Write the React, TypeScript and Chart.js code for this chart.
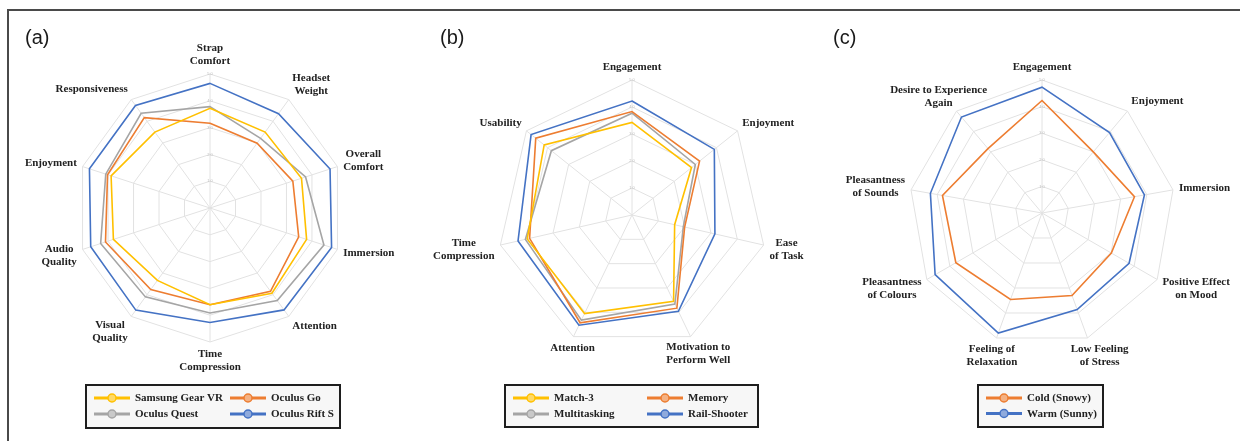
import React, { useEffect, useRef } from "react";
import { Chart, registerables } from "chart.js";

Chart.register(...registerables);

// ---------- DATA ----------
const headsetCategories: (string | string[])[] = [
  ["Strap", "Comfort"],
  ["Headset", "Weight"],
  ["Overall", "Comfort"],
  "Immersion",
  "Attention",
  ["Time", "Compression"],
  ["Visual", "Quality"],
  ["Audio", "Quality"],
  "Enjoyment",
  "Responsiveness",
];
const samsungGearVR = [3.72, 3.5, 3.59, 3.79, 3.93, 3.61, 3.34, 3.79, 3.88, 3.5];
const oculusGo = [3.16, 2.99, 3.25, 3.48, 3.84, 3.61, 3.76, 4.1, 4.02, 4.17];
const oculusQuest = [3.78, 3.21, 3.75, 4.47, 4.27, 3.92, 4.1, 4.29, 4.09, 4.37];
const oculusRiftS = [4.65, 4.35, 4.71, 4.77, 4.7, 4.27, 4.71, 4.68, 4.73, 4.73];

const gameCategories: (string | string[])[] = [
  "Engagement",
  "Enjoyment",
  ["Ease", "of Task"],
  ["Motivation to", "Perform Well"],
  "Attention",
  ["Time", "Compression"],
  "Usability",
];
const match3 = [3.43, 2.82, 1.62, 3.55, 4.05, 3.98, 4.16];
const memory = [3.83, 3.2, 2.0, 3.83, 4.43, 3.89, 4.56];
const multitasking = [3.77, 3.0, 1.95, 3.66, 4.32, 4.05, 3.82];
const railShooter = [4.22, 3.9, 3.15, 3.96, 4.53, 4.33, 4.78];

const environmentCategories: (string | string[])[] = [
  "Engagement",
  "Enjoyment",
  "Immersion",
  ["Positive Effect", "on Mood"],
  ["Low Feeling", "of Stress"],
  ["Feeling of", "Relaxation"],
  ["Pleasantness", "of Colours"],
  ["Pleasantness", "of Sounds"],
  ["Desire to Experience", "Again"],
];
const coldSnowy = [4.23, 3.0, 3.53, 3.01, 3.3, 3.46, 3.74, 3.8, 3.16];
const warmSunny = [4.73, 3.95, 3.91, 3.78, 3.86, 4.8, 4.64, 4.26, 4.71];

const scaleMin = 0;
const scaleMax = 5;
const scaleStep = 1;

// ---------- STYLES ----------
const YELLOW = "#FFC000";
const ORANGE = "#ED7D31";
const GRAY = "#A5A5A5";
const BLUE = "#4472C4";
const YELLOW_FILL = "#FFD966";
const ORANGE_FILL = "#F4B183";
const GRAY_FILL = "#C9C9C9";
const BLUE_FILL = "#8FAADC";

type Series = { name: string; data: number[]; color: string; fill: string };
type PanelCfg = {
  letter: string;
  letterX: number;
  labels: (string | string[])[];
  series: Series[];
  canvasLeft: number;
  canvasWidth: number;
  cx: number;
  cy: number;
  R: number;
  labelAlign: number[];
  legend: { x: number; y: number; w: number; h: number; cols: number; colStep: number; rowY: number[] };
};

const H = 441;
const TICK_FONT = 4;

const panels: PanelCfg[] = [
  {
    letter: "(a)",
    letterX: 25,
    labels: headsetCategories,
    series: [
      { name: "Samsung Gear VR", data: samsungGearVR, color: YELLOW, fill: YELLOW_FILL },
      { name: "Oculus Go", data: oculusGo, color: ORANGE, fill: ORANGE_FILL },
      { name: "Oculus Quest", data: oculusQuest, color: GRAY, fill: GRAY_FILL },
      { name: "Oculus Rift S", data: oculusRiftS, color: BLUE, fill: BLUE_FILL },
    ],
    canvasLeft: 0,
    canvasWidth: 415,
    cx: 210,
    cy: 208,
    R: 134,
    labelAlign: [0, 1, 1, 1, 1, 0, -1, -1, -1, -1],
    legend: { x: 86, y: 385, w: 254, h: 43, cols: 2, colStep: 136, rowY: [398, 414] },
  },
  {
    letter: "(b)",
    letterX: 25,
    labels: gameCategories,
    series: [
      { name: "Match-3", data: match3, color: YELLOW, fill: YELLOW_FILL },
      { name: "Memory", data: memory, color: ORANGE, fill: ORANGE_FILL },
      { name: "Multitasking", data: multitasking, color: GRAY, fill: GRAY_FILL },
      { name: "Rail-Shooter", data: railShooter, color: BLUE, fill: BLUE_FILL },
    ],
    canvasLeft: 415,
    canvasWidth: 400,
    cx: 217,
    cy: 215,
    R: 135,
    labelAlign: [0, 1, 1, 0.16, 0.08, -1, -1],
    legend: { x: 90, y: 385, w: 253, h: 42, cols: 2, colStep: 134, rowY: [398, 414] },
  },
  {
    letter: "(c)",
    letterX: 18,
    labels: environmentCategories,
    series: [
      { name: "Cold (Snowy)", data: coldSnowy, color: ORANGE, fill: ORANGE_FILL },
      { name: "Warm (Sunny)", data: warmSunny, color: BLUE, fill: BLUE_FILL },
    ],
    canvasLeft: 815,
    canvasWidth: 425,
    cx: 227,
    cy: 213,
    R: 133,
    labelAlign: [0, 1, 1, 1, 0.35, -0.1, -1, -1, -0.29],
    legend: { x: 163, y: 385, w: 125, h: 42, cols: 1, colStep: 0, rowY: [398, 413.5] },
  },
];

const LABEL_FONT = 'bold 11px "Liberation Serif", "Times New Roman", serif';
const LINE_H = 13;
const LABEL_PAD = 6;

function makeDecorPlugin(cfg: PanelCfg) {
  return {
    id: "panelDecor" + cfg.letter,
    afterDraw(chart: any) {
      const ctx: CanvasRenderingContext2D = chart.ctx;
      const scale = chart.scales.r;
      const n = cfg.labels.length;
      ctx.save();
      // panel letter
      ctx.font = '20px "Liberation Sans", Arial, sans-serif';
      ctx.fillStyle = "#1a1a1a";
      ctx.textAlign = "left";
      ctx.textBaseline = "alphabetic";
      ctx.fillText(cfg.letter, cfg.letterX, 43.5);

      // point labels
      ctx.font = LABEL_FONT;
      ctx.fillStyle = "#222";
      ctx.textAlign = "center";
      ctx.textBaseline = "middle";
      cfg.labels.forEach((lab, i) => {
        const lines = Array.isArray(lab) ? lab : [lab];
        const th = (2 * Math.PI * i) / n;
        const c = Math.cos(th);
        const p = scale.getPointPosition(i, scale.drawingArea + LABEL_PAD);
        const w = Math.max(...lines.map((l) => ctx.measureText(l).width));
        const h = lines.length * LINE_H;
        const bx = p.x + (cfg.labelAlign[i] * w) / 2;
        const by = p.y - (c * h) / 2;
        lines.forEach((l, k) => ctx.fillText(l, bx, by - h / 2 + LINE_H * (k + 0.5)));
      });

      // legend
      const L = cfg.legend;
      ctx.fillStyle = "#f7f7f7";
      ctx.fillRect(L.x, L.y, L.w, L.h);
      ctx.strokeStyle = "#1e1e1e";
      ctx.lineWidth = 2;
      ctx.strokeRect(L.x, L.y, L.w, L.h);
      ctx.textAlign = "left";
      cfg.series.forEach((s, i) => {
        const col = i % L.cols;
        const row = Math.floor(i / L.cols);
        const mx = L.x + 8 + col * L.colStep;
        const my = L.rowY[row];
        ctx.strokeStyle = s.color;
        ctx.lineWidth = 3;
        ctx.beginPath();
        ctx.moveTo(mx, my);
        ctx.lineTo(mx + 36, my);
        ctx.stroke();
        ctx.beginPath();
        ctx.arc(mx + 18, my, 4, 0, Math.PI * 2);
        ctx.fillStyle = s.fill;
        ctx.fill();
        ctx.lineWidth = 1.5;
        ctx.stroke();
        ctx.fillStyle = "#222";
        ctx.fillText(s.name, mx + 41, my + 0.5);
      });
      ctx.restore();
    },
  };
}

function RadarPanel({ cfg }: { cfg: PanelCfg }) {
  const ref = useRef<HTMLCanvasElement | null>(null);
  useEffect(() => {
    if (!ref.current) return;
    const p = TICK_FONT / 2;
    const W = cfg.canvasWidth;
    const padding = {
      left: cfg.cx - cfg.R - p,
      top: cfg.cy - cfg.R - p,
      right: W - (cfg.cx + cfg.R + p),
      bottom: H - (cfg.cy + cfg.R + p),
    };
    const chart = new Chart(ref.current, {
      type: "radar",
      data: {
        labels: cfg.labels as any,
        datasets: cfg.series.map((s) => ({
          label: s.name,
          data: s.data,
          borderColor: s.color,
          backgroundColor: s.fill,
          borderWidth: 1.6,
          fill: false,
          pointRadius: 0,
          pointHoverRadius: 0,
          tension: 0,
        })),
      },
      options: {
        animation: false,
        responsive: false,
        maintainAspectRatio: false,
        devicePixelRatio: 1,
        layout: { padding },
        plugins: {
          legend: { display: false },
          title: { display: false },
          tooltip: { enabled: false },
        },
        scales: {
          r: {
            min: scaleMin,
            max: scaleMax,
            beginAtZero: true,
            ticks: {
              stepSize: scaleStep,
              display: true,
              font: { size: TICK_FONT },
              color: "#bdbdbd",
              showLabelBackdrop: false,
              backdropPadding: 0,
              callback: (v: any) => Number(v).toFixed(1),
            },
            grid: { color: "#e2e2e2", lineWidth: 1 },
            angleLines: { color: "#e2e2e2", lineWidth: 1 },
            pointLabels: { display: false },
          },
        },
      },
      plugins: [makeDecorPlugin(cfg)],
    } as any);
    return () => chart.destroy();
  }, [cfg]);
  return (
    <canvas
      ref={ref}
      width={cfg.canvasWidth}
      height={H}
      style={{ position: "absolute", left: cfg.canvasLeft, top: 0, width: cfg.canvasWidth, height: H }}
    />
  );
}

export default function App() {
  return (
    <div
      style={{
        position: "fixed",
        left: 0,
        top: 0,
        width: 1240,
        height: H,
        background: "#ffffff",
        overflow: "hidden",
      }}
    >
      <div
        style={{
          position: "absolute",
          left: 7,
          top: 9,
          width: 1240,
          height: 440,
          borderTop: "2px solid #4a4a4a",
          borderLeft: "2px solid #4a4a4a",
        }}
      />
      {panels.map((cfg) => (
        <RadarPanel key={cfg.letter} cfg={cfg} />
      ))}
    </div>
  );
}
